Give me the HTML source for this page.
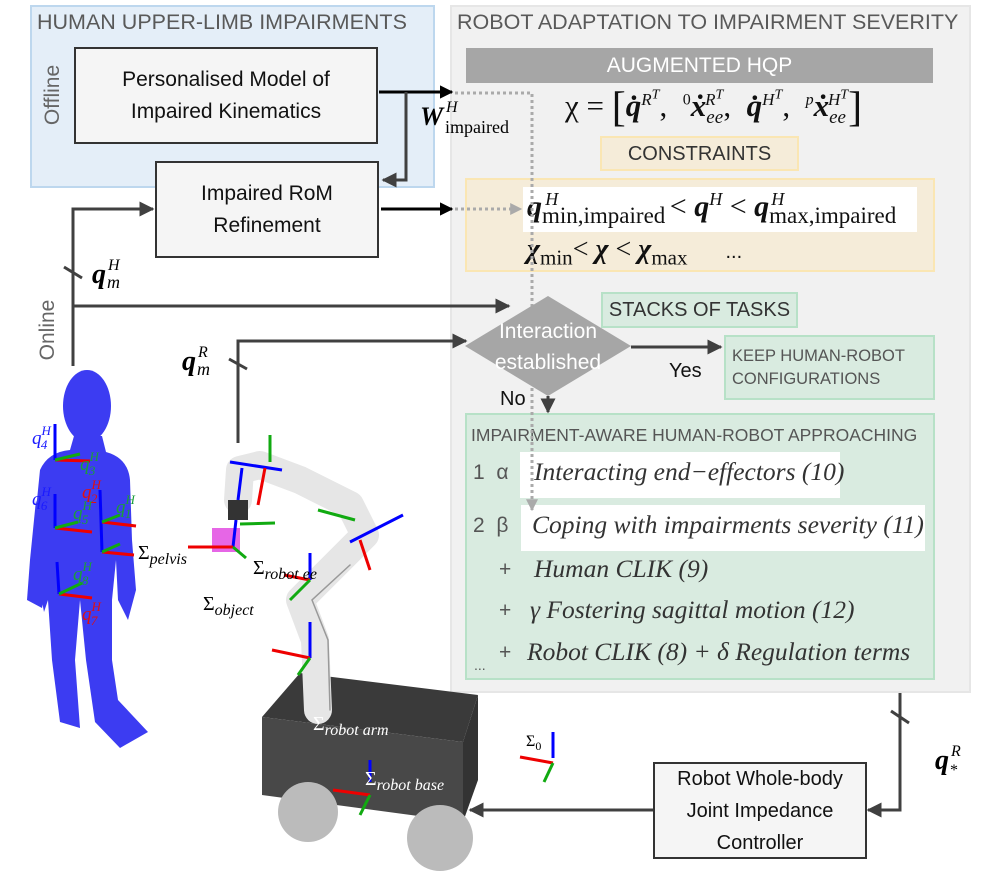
<!DOCTYPE html>
<html><head><meta charset="utf-8">
<style>
body{margin:0;width:997px;height:881px;background:#fff;position:relative;overflow:hidden;font-family:"Liberation Sans",sans-serif}
.a{position:absolute}
.box{position:absolute;box-sizing:border-box;border:2px solid #333;background:#f5f5f5;text-align:center;font-size:21px;color:#111;line-height:32px;display:flex;align-items:center;justify-content:center}
.it{font-family:"Liberation Serif",serif;font-style:italic;color:#333;font-size:25.5px}
.m{font-family:"Liberation Serif",serif}
</style></head><body>

<div class="a" style="left:30px;top:5px;width:405px;height:183px;background:#e4eef8;border:2px solid #bdd7ee;box-sizing:border-box"></div>
<div class="a" style="left:37px;top:10px;font-size:21.5px;color:#595959">HUMAN UPPER-LIMB IMPAIRMENTS</div>
<div class="a" style="left:15px;top:83px;font-size:21px;color:#666;transform:rotate(-90deg);transform-origin:center;width:76px;text-align:center">Offline</div>
<div class="a" style="left:10px;top:318px;font-size:21px;color:#666;transform:rotate(-90deg);transform-origin:center;width:76px;text-align:center">Online</div>

<div class="a" style="left:450px;top:5px;width:521px;height:688px;background:#f1f1f1;border:2px solid #e6e6e6;box-sizing:border-box"></div>
<div class="a" style="left:457px;top:10px;font-size:21.5px;color:#595959;white-space:nowrap">ROBOT ADAPTATION TO IMPAIRMENT SEVERITY</div>
<div class="a" style="left:466px;top:48px;width:467px;height:35px;background:#a6a6a6;color:#fff;font-size:21px;text-align:center;line-height:36px">AUGMENTED HQP</div>
<div class="a m" style="left:565px;top:84px;font-size:31px;color:#111;white-space:nowrap">χ = <span style="font-size:42px;vertical-align:-5px">[</span><b><i>q̇</i></b><sup style="font-size:17px"><i>R<sup>T</sup></i></sup>,&nbsp; <sup style="font-size:16px">0</sup><b><i>ẋ</i></b><sub style="font-size:19px"><i>ee</i></sub><sup style="font-size:17px;margin-left:-18px"><i>R<sup>T</sup></i></sup>,&nbsp; <b><i>q̇</i></b><sup style="font-size:17px"><i>H<sup>T</sup></i></sup>,&nbsp; <sup style="font-size:16px"><i>p</i></sup><b><i>ẋ</i></b><sub style="font-size:19px"><i>ee</i></sub><sup style="font-size:17px;margin-left:-18px"><i>H<sup>T</sup></i></sup><span style="font-size:42px;vertical-align:-5px">]</span></div>

<div class="a" style="left:600px;top:136px;width:199px;height:35px;background:#f5ecd9;border:2px solid #fae6b3;box-sizing:border-box;text-align:center;line-height:32px;font-size:20px;color:#333">CONSTRAINTS</div>
<div class="a" style="left:465px;top:178px;width:470px;height:94px;background:#f5ecd9;border:2px solid #fae6b3;box-sizing:border-box"></div>
<div class="a" style="left:523px;top:187px;width:394px;height:45px;background:#fff"></div>
<div class="a m" style="left:527px;top:189px;font-size:30px;color:#111;white-space:nowrap"><b><i>q</i></b><sub style="font-size:23px">min,impaired</sub><sup style="font-size:18px;margin-left:-120px"><i>H</i></sup><span style="margin-left:104px"></span> &lt; <b><i>q</i></b><sup style="font-size:18px"><i>H</i></sup> &lt; <b><i>q</i></b><sub style="font-size:23px">max,impaired</sub><sup style="font-size:18px;margin-left:-125px"><i>H</i></sup></div>
<div class="a m" style="left:527px;top:234px;font-size:28px;color:#111;white-space:nowrap"><b><i>χ</i></b><sub style="font-size:21px">min</sub>&lt; <b><i>χ</i></b> &lt; <b><i>χ</i></b><sub style="font-size:21px">max</sub><span style="margin-left:38px;font-family:'Liberation Sans';font-size:20px">...</span></div>

<div class="a" style="left:601px;top:292px;width:197px;height:36px;background:#d9ebe0;border:2px solid #b7e1c7;box-sizing:border-box;text-align:center;line-height:33px;font-size:20px;color:#333">STACKS OF TASKS</div>
<div class="a" style="left:724px;top:335px;width:211px;height:65px;background:#d9ebe0;border:2px solid #b7e1c7;box-sizing:border-box;font-size:16.5px;color:#555;padding:8px 0 0 6px;line-height:23px;white-space:nowrap">KEEP HUMAN-ROBOT<br>CONFIGURATIONS</div>

<div class="a" style="left:465px;top:413px;width:470px;height:267px;background:#d9ebe0;border:2px solid #b7e1c7;box-sizing:border-box"></div>
<div class="a" style="left:471px;top:425px;font-size:17.5px;color:#555;white-space:nowrap">IMPAIRMENT-AWARE HUMAN-ROBOT APPROACHING</div>
<div class="a" style="left:520px;top:452px;width:320px;height:46px;background:#fff"></div>
<div class="a" style="left:521px;top:505px;width:404px;height:46px;background:#fff"></div>
<div class="a" style="left:473px;top:461px;font-size:21px;color:#555">1&nbsp;&nbsp;α</div>
<div class="a" style="left:473px;top:514px;font-size:21px;color:#555">2&nbsp;&nbsp;β</div>
<div class="a it" style="left:534px;top:457px">Interacting end−effectors (10)</div>
<div class="a it" style="left:532px;top:510px">Coping with impairments severity (11)</div>
<div class="a" style="left:499px;top:558px;font-size:21px;color:#555">+</div>
<div class="a it" style="left:534px;top:554px">Human CLIK (9)</div>
<div class="a" style="left:499px;top:599px;font-size:21px;color:#555">+</div>
<div class="a it" style="left:530px;top:595px">γ Fostering sagittal motion (12)</div>
<div class="a" style="left:499px;top:641px;font-size:21px;color:#555">+</div>
<div class="a it" style="left:527px;top:637px">Robot CLIK (8) + δ Regulation terms</div>
<div class="a" style="left:474px;top:657px;font-size:14px;color:#555">...</div>

<div class="box" style="left:74px;top:47px;width:304px;height:97px">Personalised Model of<br>Impaired Kinematics</div>
<div class="box" style="left:155px;top:161px;width:224px;height:97px">Impaired RoM<br>Refinement</div>
<div class="box" style="left:653px;top:762px;width:214px;height:97px;font-size:20px">Robot Whole-body<br>Joint Impedance<br>Controller</div>

<svg class="a" style="left:0;top:0" width="997" height="881" viewBox="0 0 997 881">
<defs>
<marker id="ah" viewBox="0 0 10 10" refX="9" refY="5" markerWidth="5" markerHeight="5" orient="auto"><path d="M0,0L10,5L0,10z" fill="#404040"/></marker>
<marker id="ahb" viewBox="0 0 10 10" refX="9" refY="5" markerWidth="4.5" markerHeight="4.5" orient="auto"><path d="M0,0L10,5L0,10z" fill="#000"/></marker>
<marker id="ahg" viewBox="0 0 10 10" refX="9" refY="5" markerWidth="4" markerHeight="4" orient="auto"><path d="M0,0L10,5L0,10z" fill="#aaa"/></marker>
</defs>
<path d="M455,93 H532 V510" stroke="#aaa" stroke-width="3" stroke-dasharray="3,3" fill="none" marker-end="url(#ahg)"/>
<path d="M455,209 H521" stroke="#aaa" stroke-width="3" stroke-dasharray="3,3" fill="none" marker-end="url(#ahg)"/>
<polygon points="465,346 548,296 631,346 548,396" fill="#a6a6a6"/>
<text x="548" y="338" font-size="21" fill="#fff" text-anchor="middle" font-family="Liberation Sans">Interaction</text>
<text x="548" y="369" font-size="21" fill="#fff" text-anchor="middle" font-family="Liberation Sans">established</text>
<text x="669" y="377" font-size="20" fill="#111" font-family="Liberation Sans">Yes</text>
<text x="500" y="405" font-size="20" fill="#111" font-family="Liberation Sans">No</text>

<path d="M379,92 H452" stroke="#000" stroke-width="3" fill="none" marker-end="url(#ahb)"/>
<path d="M406,92 V180 H383" stroke="#404040" stroke-width="3" fill="none" marker-end="url(#ah)"/>
<path d="M381,209 H452" stroke="#000" stroke-width="3" fill="none" marker-end="url(#ahb)"/>
<path d="M73,366 V209 H153" stroke="#404040" stroke-width="3" fill="none" marker-end="url(#ah)"/>
<path d="M73,306 H509" stroke="#404040" stroke-width="3" fill="none" marker-end="url(#ah)"/>
<line x1="64" y1="267" x2="82" y2="278" stroke="#404040" stroke-width="3"/>
<path d="M238,443 V341 H466" stroke="#404040" stroke-width="3" fill="none" marker-end="url(#ah)"/>
<line x1="229" y1="359" x2="247" y2="369" stroke="#404040" stroke-width="3"/>
<path d="M631,347 H721" stroke="#404040" stroke-width="3" fill="none" marker-end="url(#ah)"/>
<path d="M548,396 V412" stroke="#404040" stroke-width="3" fill="none" marker-end="url(#ah)"/>
<path d="M900,693 V810 H868" stroke="#404040" stroke-width="3" fill="none" marker-end="url(#ah)"/>
<line x1="891" y1="711" x2="909" y2="723" stroke="#404040" stroke-width="3"/>
<path d="M653,810 H470" stroke="#404040" stroke-width="3" fill="none" marker-end="url(#ah)"/>

<text x="420" y="125" font-size="26" font-weight="bold" font-style="italic" font-family="Liberation Serif">W</text>
<text x="446" y="112" font-size="16" font-style="italic" font-family="Liberation Serif">H</text>
<text x="445" y="133" font-size="18" font-family="Liberation Serif">impaired</text>
<text x="92" y="283" font-size="28" font-weight="bold" font-style="italic" font-family="Liberation Serif">q</text>
<text x="108" y="270" font-size="16" font-style="italic" font-family="Liberation Serif">H</text>
<text x="107" y="288" font-size="18" font-style="italic" font-family="Liberation Serif">m</text>
<text x="182" y="370" font-size="28" font-weight="bold" font-style="italic" font-family="Liberation Serif">q</text>
<text x="198" y="357" font-size="16" font-style="italic" font-family="Liberation Serif">R</text>
<text x="197" y="375" font-size="18" font-style="italic" font-family="Liberation Serif">m</text>
<text x="935" y="769" font-size="28" font-weight="bold" font-style="italic" font-family="Liberation Serif">q</text>
<text x="951" y="756" font-size="16" font-style="italic" font-family="Liberation Serif">R</text>
<text x="950" y="775" font-size="16" font-family="Liberation Serif">*</text>

<g fill="#3c3cf2">
<ellipse cx="87" cy="406" rx="24" ry="36"/>
<path d="M74,436 L102,436 L106,452 Q128,458 130,480 L132,540 L136,590 L128,620 L118,600 L116,560 L112,600 L112,660 L118,700 L148,732 L120,748 L95,722 L86,660 L80,600 L75,660 L80,728 L60,722 L52,660 L48,600 L44,612 L36,570 L36,510 L40,470 Q48,452 70,450 Z"/>
<path d="M36,500 L30,560 L27,600 L42,608 L50,560 Z"/>
</g>
<g stroke-width="3" fill="none">
<line x1="55" y1="424" x2="55" y2="460" stroke="#00f"/><line x1="55" y1="460" x2="90" y2="461" stroke="#e00"/><line x1="55" y1="460" x2="80" y2="454" stroke="#1a1"/>
<line x1="55" y1="494" x2="55" y2="528" stroke="#00f"/><line x1="55" y1="528" x2="92" y2="532" stroke="#e00"/><line x1="55" y1="528" x2="78" y2="522" stroke="#1a1"/>
<line x1="100" y1="490" x2="102" y2="552" stroke="#00f"/><line x1="102" y1="522" x2="136" y2="526" stroke="#e00"/><line x1="102" y1="522" x2="120" y2="515" stroke="#1a1"/>
<line x1="102" y1="552" x2="134" y2="555" stroke="#e00"/><line x1="102" y1="552" x2="120" y2="544" stroke="#1a1"/>
<line x1="57" y1="562" x2="59" y2="594" stroke="#00f"/><line x1="59" y1="594" x2="92" y2="598" stroke="#e00"/><line x1="59" y1="594" x2="82" y2="583" stroke="#1a1"/>
</g>
<g font-family="Liberation Serif" font-style="italic" font-size="19">
<text x="32" y="444" fill="#1a1aff">q<tspan font-size="13" dy="-9">H</tspan><tspan font-size="13" dx="-10" dy="14">4</tspan></text>
<text x="80" y="470" fill="#1b9e3a">q<tspan font-size="13" dy="-9">H</tspan><tspan font-size="13" dx="-10" dy="14">3</tspan></text>
<text x="82" y="498" fill="#e01010">q<tspan font-size="13" dy="-9">H</tspan><tspan font-size="13" dx="-10" dy="14">2</tspan></text>
<text x="32" y="505" fill="#1a1aff">q<tspan font-size="13" dy="-9">H</tspan><tspan font-size="13" dx="-10" dy="14">6</tspan></text>
<text x="73" y="519" fill="#1b9e3a">q<tspan font-size="13" dy="-9">H</tspan><tspan font-size="13" dx="-10" dy="14">5</tspan></text>
<text x="116" y="513" fill="#1b9e3a">q<tspan font-size="13" dy="-9">H</tspan><tspan font-size="13" dx="-10" dy="14">1</tspan></text>
<text x="73" y="580" fill="#1b9e3a">q<tspan font-size="13" dy="-9">H</tspan><tspan font-size="13" dx="-10" dy="14">8</tspan></text>
<text x="82" y="620" fill="#e01010">q<tspan font-size="13" dy="-9">H</tspan><tspan font-size="13" dx="-10" dy="14">7</tspan></text>
</g>
<text x="138" y="559" font-size="20" font-family="Liberation Serif">Σ<tspan font-style="italic" font-size="16" dy="5">pelvis</tspan></text>

<polygon points="262,717 300,673 478,695 463,742" fill="#3a3a3a"/>
<polygon points="262,717 463,742 463,822 262,795" fill="#484848"/>
<polygon points="463,742 478,695 478,780 463,822" fill="#333"/>
<circle cx="308" cy="812" r="30" fill="#bbb"/>
<circle cx="440" cy="838" r="33" fill="#bbb"/>
<g stroke="#e6e6e6" stroke-linecap="round" stroke-linejoin="round" fill="none">
<path d="M318,710 L315,640 L300,600 L340,560 L365,535 L350,505 L300,480 L260,465 L240,470 L238,500" stroke-width="28"/>
</g>
<g stroke="#999" stroke-linecap="round" fill="none" stroke-width="1.5"><path d="M330,710 L328,640 L312,600 L350,565"/></g>
<rect x="228" y="500" width="20" height="20" fill="#333"/>
<rect x="212" y="528" width="28" height="24" fill="#e040e0" opacity="0.8"/>
<g stroke-width="3" fill="none">
<line x1="270" y1="462" x2="270" y2="435" stroke="#1a1"/><line x1="230" y1="462" x2="282" y2="470" stroke="#00f"/><line x1="265" y1="468" x2="258" y2="505" stroke="#e00"/>
<line x1="242" y1="468" x2="238" y2="500" stroke="#00f"/>
<line x1="233" y1="547" x2="236" y2="520" stroke="#00f"/><line x1="188" y1="547" x2="233" y2="547" stroke="#e00"/><line x1="233" y1="547" x2="246" y2="558" stroke="#1a1"/><line x1="240" y1="524" x2="275" y2="523" stroke="#1a1"/>
<line x1="360" y1="540" x2="370" y2="570" stroke="#e00"/><line x1="350" y1="542" x2="403" y2="515" stroke="#00f"/><line x1="318" y1="510" x2="355" y2="520" stroke="#1a1"/>
<line x1="310" y1="580" x2="310" y2="553" stroke="#00f"/><line x1="284" y1="575" x2="310" y2="580" stroke="#e00"/><line x1="310" y1="580" x2="290" y2="600" stroke="#1a1"/>
<line x1="310" y1="658" x2="310" y2="622" stroke="#00f"/><line x1="272" y1="650" x2="310" y2="658" stroke="#e00"/><line x1="310" y1="658" x2="298" y2="675" stroke="#1a1"/>
<line x1="370" y1="782" x2="370" y2="760" stroke="#00f"/><line x1="333" y1="790" x2="370" y2="795" stroke="#e00"/><line x1="370" y1="795" x2="360" y2="815" stroke="#1a1"/>
<line x1="553" y1="732" x2="553" y2="758" stroke="#00f"/><line x1="520" y1="757" x2="553" y2="763" stroke="#e00"/><line x1="553" y1="763" x2="544" y2="782" stroke="#1a1"/>
</g>
<text x="253" y="574" font-size="20" font-family="Liberation Serif">Σ<tspan font-style="italic" font-size="16" dy="5">robot ee</tspan></text>
<text x="203" y="610" font-size="20" font-family="Liberation Serif">Σ<tspan font-style="italic" font-size="16" dy="5">object</tspan></text>
<text x="313" y="730" font-size="20" fill="#fff" font-family="Liberation Serif">Σ<tspan font-style="italic" font-size="16" dy="5">robot arm</tspan></text>
<text x="365" y="785" font-size="20" fill="#fff" font-family="Liberation Serif">Σ<tspan font-style="italic" font-size="16" dy="5">robot base</tspan></text>
<text x="526" y="746" font-size="16" font-family="Liberation Serif">Σ<tspan font-size="12" dy="4">0</tspan></text>
</svg>
</body></html>
